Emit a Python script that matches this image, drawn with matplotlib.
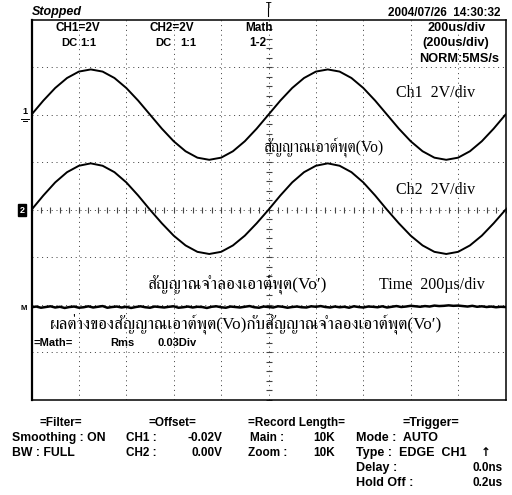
import numpy as np
import matplotlib
matplotlib.use("Agg")
import matplotlib.pyplot as plt
from matplotlib import font_manager as fm
from matplotlib.ft2font import FT2Font

# ---------------- data ----------------
time_us = [i * 50 for i in range(41)]          # 0 .. 2000 us, 200 us/div
ch1_v = [0.00, 0.59, 1.12, 1.54, 1.81, 1.90, 1.81, 1.54, 1.12, 0.59,
         0.00, -0.59, -1.12, -1.54, -1.81, -1.90, -1.81, -1.54, -1.12, -0.59,
         0.00, 0.59, 1.12, 1.54, 1.81, 1.90, 1.81, 1.54, 1.12, 0.59,
         0.00, -0.59, -1.12, -1.54, -1.81, -1.90, -1.81, -1.54, -1.12, -0.59,
         0.00]
ch2_v = [0.00, 0.60, 1.15, 1.58, 1.85, 1.95, 1.85, 1.58, 1.15, 0.60,
         0.00, -0.57, -1.09, -1.50, -1.77, -1.86, -1.77, -1.50, -1.09, -0.57,
         0.00, 0.60, 1.15, 1.58, 1.85, 1.95, 1.85, 1.58, 1.15, 0.60,
         0.00, -0.57, -1.09, -1.50, -1.77, -1.86, -1.77, -1.50, -1.09, -0.57,
         0.00]
math_time_us = [i * 20 for i in range(101)]
math_div = [0.000, 0.015, -0.010, 0.005, 0.020, -0.005, 0.010, -0.015, 0.005, 0.015,
            -0.010, 0.000, 0.020, -0.005, 0.010, 0.025, -0.010, 0.005, 0.015, -0.005,
            0.010, -0.015, 0.005, 0.020, 0.000, -0.010, 0.015, 0.005, -0.005, 0.010,
            0.020, -0.010, 0.000, 0.015, -0.005, 0.010, 0.005, -0.015, 0.010, 0.020,
            0.000, -0.010, 0.015, 0.005, -0.005, 0.010, 0.025, 0.000, -0.010, 0.015,
            0.005, -0.005, 0.020, 0.010, -0.010, 0.005, 0.015, 0.000, -0.005, 0.020,
            0.010, 0.025, 0.005, -0.005, 0.015, 0.000, 0.010, -0.010, 0.020, 0.005,
            -0.005, 0.015, 0.010, 0.000, 0.020, -0.005, 0.010, 0.025, 0.005, 0.015,
            0.030, 0.020, 0.010, 0.025, 0.015, 0.035, 0.025, 0.030, 0.040, 0.030,
            0.035, 0.025, 0.015, 0.030, 0.010, 0.020, 0.005, 0.015, 0.000, 0.010, 0.005]
volts_per_div = 2.0
us_per_div = 200.0
ch1_pos_div = 2.0
ch2_pos_div = 0.0
math_pos_div = -2.05

# ---------------- fonts ----------------
thai_fonts = []
for f in fm.fontManager.ttflist:
    try:
        if 0x0E2A in FT2Font(f.fname).get_charmap():
            thai_fonts.append(f.name)
    except Exception:
        pass
thai_fonts = sorted(set(thai_fonts))
pref = [n for n in thai_fonts if "FreeSerif" in n] or \
       [n for n in thai_fonts if any(k in n for k in ("Serif", "Norasi", "Garuda", "Loma"))]
thai_name = (pref or thai_fonts or ["DejaVu Sans"])[0]
SERIF = ["Liberation Serif", thai_name, "DejaVu Sans"]
SANS = ["Liberation Sans", "DejaVu Sans"]

W, H = 512, 495
fig = plt.figure(figsize=(W / 100, H / 100), dpi=100)
fig.patch.set_facecolor("white")
ax = fig.add_axes([31.5 / W, 1 - 400 / H, 474 / W, 380.5 / H])
ax.set_xlim(0, 10)
ax.set_ylim(-4, 4)
ax.set_xticks([])
ax.set_yticks([])
for s in ax.spines.values():
    s.set_linewidth(1.1)
    s.set_color("black")
ax.spines["left"].set_linewidth(1.6)

grid_kw = dict(color="#444444", lw=0.72, dashes=(1, 3.8))
for gx in range(1, 10):
    ax.axvline(gx, **grid_kw)
for gy in range(-3, 4):
    ax.axhline(gy, **grid_kw)
# centre axis small ticks
tx = np.arange(0, 10.01, 0.2)
ax.plot(tx, np.zeros_like(tx), ls="none", marker="|", ms=4, mew=0.8, color="#444444")
ty = np.arange(-4, 4.01, 0.2)
ax.plot(np.full_like(ty, 5.0), ty, ls="none", marker="_", ms=4, mew=0.8, color="#444444")

# traces
t_div = np.array(time_us) / us_per_div
ax.plot(t_div, np.array(ch1_v) / volts_per_div + ch1_pos_div, color="black", lw=1.4, solid_joinstyle="round")
ax.plot(t_div, np.array(ch2_v) / volts_per_div + ch2_pos_div, color="black", lw=1.4, solid_joinstyle="round")
ax.plot(np.array(math_time_us) / us_per_div, np.array(math_div) + math_pos_div, color="black", lw=1.8)


def T(x, y, s, ha="left", size=8.5, family=SANS, weight="bold", **kw):
    fig.text(x / W, 1 - y / H, s, ha=ha, va="center", fontsize=size,
             family=family, weight=weight, **kw)


# top header
T(32, 12.5, "Stopped", style="italic", size=9)
T(78, 28, "CH1=2V", ha="center")
T(69, 43, "DC", ha="center", size=8)
T(88, 43, "1:1", ha="center", size=8)
T(172, 28, "CH2=2V", ha="center")
T(163, 43, "DC", ha="center", size=8)
T(188, 43, "1:1", ha="center", size=8)
T(259, 28, "Math", ha="center")
T(258, 43, "1-2", ha="center")
T(501, 13, "2004/07/26  14:30:32", ha="right")
T(486, 28, "200us/div", ha="right", size=9.2)
T(489, 43, "(200us/div)", ha="right", size=9.2)
T(499, 59, "NORM:5MS/s", ha="right", size=9.2)
T(269, 6, "T", ha="center", size=6.5)
fig.add_artist(plt.Line2D([268 / W, 268 / W], [1 - 8 / H, 1 - 16 / H], color="black", lw=0.8))

# channel markers
T(25, 112, "1", ha="center", size=6.5)
fig.add_artist(plt.Line2D([21 / W, 29 / W], [1 - 119 / H, 1 - 119 / H], color="black", lw=0.7))
fig.add_artist(plt.Line2D([23 / W, 27 / W], [1 - 121 / H, 1 - 121 / H], color="black", lw=0.7))
fig.text(22 / W, 1 - 210 / H, "2", ha="center", va="center", fontsize=6.5, family=SANS,
         weight="bold", color="white", bbox=dict(boxstyle="square,pad=0.15", fc="black", ec="black"))
T(24, 308, "M", ha="center", size=5.5)

# serif annotations
T(396, 93, "Ch1  2V/div", family=SERIF, weight="normal", size=11.5)
T(396, 190, "Ch2  2V/div", family=SERIF, weight="normal", size=11.5)
T(263, 148, "สัญญาณเอาต์พุต(Vo)", family=SERIF, weight="normal", size=11.2)
T(147, 285, "สัญญาณจำลองเอาต์พุต(Vo′)", family=SERIF, weight="normal", size=12.5)
T(379, 285, "Time  200µs/div", family=SERIF, weight="normal", size=11.5)
T(50, 325, "ผลต่างของสัญญาณเอาต์พุต(Vo)กับสัญญาณจำลองเอาต์พุต(Vo′)", family=SERIF,
  weight="normal", size=12.3)
T(34, 343, "=Math=", size=8)
T(110, 343, "Rms", size=8)
T(158, 343, "0.03Div", size=8)

# bottom panel
T(61, 423, "=Filter=", ha="center")
T(12, 438, "Smoothing : ON", size=8.8)
T(12, 453, "BW : FULL", size=8.8)
T(172, 423, "=Offset=", ha="center")
T(126, 438, "CH1 :")
T(222, 438, "-0.02V", ha="right")
T(126, 453, "CH2 :")
T(222, 453, "0.00V", ha="right")
T(296, 423, "=Record Length=", ha="center")
T(250, 438, "Main :")
T(335, 438, "10K", ha="right")
T(248, 453, "Zoom :")
T(335, 453, "10K", ha="right")
T(431, 423, "=Trigger=", ha="center", size=9)
T(356, 438, "Mode :  AUTO", size=9)
T(356, 453, "Type :  EDGE  CH1", size=9)
T(486, 453, "↑", ha="center", family=["DejaVu Sans"])
T(356, 468, "Delay :", size=9)
T(503, 468, "0.0ns", ha="right")
T(356, 483, "Hold Off :", size=9)
T(503, 483, "0.2us", ha="right")

fig.savefig("out.png", dpi=100)
